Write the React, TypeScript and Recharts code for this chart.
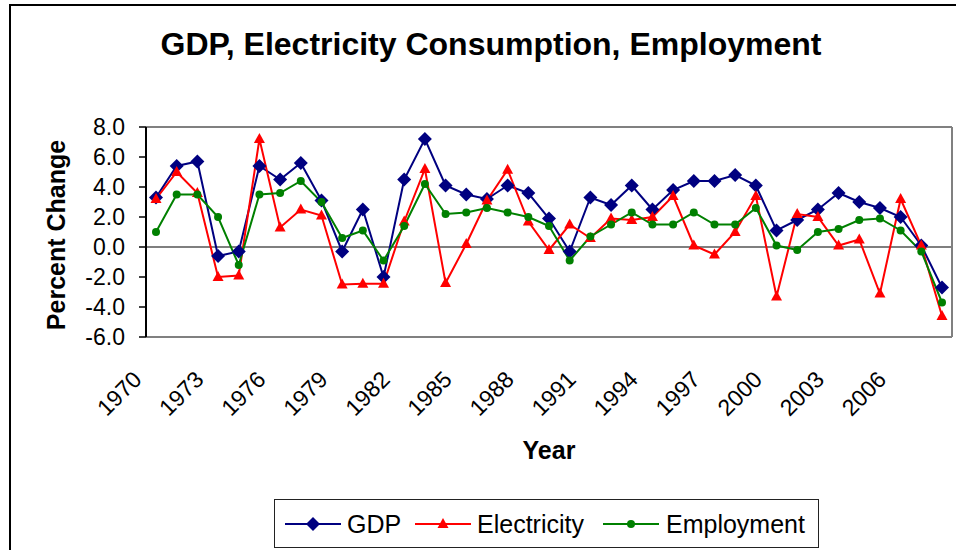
import { LineChart, Line, XAxis, YAxis, ReferenceLine, Label } from "recharts";

document.body.style.margin = "0";

const years = [
  "1970", "1971", "1972", "1973", "1974", "1975", "1976", "1977", "1978", "1979",
  "1980", "1981", "1982", "1983", "1984", "1985", "1986", "1987", "1988", "1989",
  "1990", "1991", "1992", "1993", "1994", "1995", "1996", "1997", "1998", "1999",
  "2000", "2001", "2002", "2003", "2004", "2005", "2006", "2007", "2008",
];

const gdp = [
  3.3, 5.4, 5.7, -0.6, -0.3, 5.4, 4.5, 5.6, 3.1, -0.3,
  2.5, -2.0, 4.5, 7.2, 4.1, 3.5, 3.2, 4.1, 3.6, 1.9,
  -0.3, 3.3, 2.8, 4.1, 2.5, 3.8, 4.4, 4.4, 4.8, 4.1,
  1.1, 1.8, 2.5, 3.6, 3.0, 2.6, 2.0, 0.1, -2.7,
];

const electricity = [
  3.2, 5.0, 3.6, -2.0, -1.9, 7.2, 1.3, 2.5, 2.1, -2.5,
  -2.45, -2.45, 1.7, 5.2, -2.4, 0.2, 3.1, 5.15, 1.7, -0.2,
  1.5, 0.6, 1.9, 1.8, 2.0, 3.4, 0.1, -0.5, 1.0, 3.4,
  -3.3, 2.2, 2.0, 0.1, 0.5, -3.1, 3.2, 0.1, -4.6,
];

const employment = [
  1.0, 3.5, 3.5, 2.0, -1.2, 3.5, 3.6, 4.4, 3.0, 0.6,
  1.1, -0.9, 1.4, 4.2, 2.2, 2.3, 2.6, 2.3, 2.0, 1.4,
  -0.9, 0.7, 1.5, 2.3, 1.5, 1.5, 2.3, 1.5, 1.5, 2.6,
  0.1, -0.2, 1.0, 1.2, 1.8, 1.9, 1.1, -0.3, -3.7,
];

const yTicks = [-6, -4, -2, 0, 2, 4, 6, 8];

const data = years.map((year, i) => ({
  year,
  gdp: gdp[i],
  electricity: electricity[i],
  employment: employment[i],
}));

const FONT = "Arial, 'Liberation Sans', Helvetica, sans-serif";
const NAVY = "#000080";
const RED = "#ff0000";
const GREEN = "#008000";

function Diamond(props: Record<string, unknown>) {
  const { cx, cy } = props as { cx: number; cy: number };
  if (cx == null || cy == null) return null;
  const r = 7;
  return <polygon points={`${cx},${cy - r} ${cx + r},${cy} ${cx},${cy + r} ${cx - r},${cy}`} fill={NAVY} />;
}

function Triangle(props: Record<string, unknown>) {
  const { cx, cy } = props as { cx: number; cy: number };
  if (cx == null || cy == null) return null;
  return <polygon points={`${cx},${cy - 6} ${cx - 5.5},${cy + 4} ${cx + 5.5},${cy + 4}`} fill={RED} />;
}

function Dot(props: Record<string, unknown>) {
  const { cx, cy } = props as { cx: number; cy: number };
  if (cx == null || cy == null) return null;
  return <circle cx={cx} cy={cy} r={4} fill={GREEN} />;
}

function YearTick(props: Record<string, unknown>) {
  const { x, y, payload } = props as { x: number; y: number; payload: { value: string } };
  const px = x - 13;
  const py = y + 44;
  return (
    <text x={px} y={py} transform={`rotate(-45, ${px}, ${py})`} textAnchor="end" fontSize={23} fontFamily={FONT} fill="#000">
      {payload.value}
    </text>
  );
}

function LegendSample({ color, marker }: { color: string; marker: "diamond" | "triangle" | "dot" }) {
  return (
    <svg width={56} height={20} style={{ display: "block" }}>
      <line x1={0} y1={10} x2={56} y2={10} stroke={color} strokeWidth={2} />
      {marker === "diamond" && <Diamond cx={28} cy={10} />}
      {marker === "triangle" && <Triangle cx={28} cy={10} />}
      {marker === "dot" && <Dot cx={28} cy={10} />}
    </svg>
  );
}

export default function App() {
  const legendText = { position: "absolute" as const, top: 9, fontSize: 25, fontFamily: FONT, lineHeight: "30px" };
  const legendLine = { position: "absolute" as const, top: 14 };
  return (
    <div style={{ position: "relative", width: 956, height: 550, overflow: "hidden", background: "#fff" }}>
      <div style={{ position: "absolute", left: 9, top: 4, width: 980, height: 600, border: "2px solid #000" }} />
      <div
        style={{
          position: "absolute",
          left: 491,
          top: 28,
          transform: "translateX(-50%)",
          whiteSpace: "nowrap",
          fontFamily: FONT,
          fontWeight: "bold",
          fontSize: 32,
          lineHeight: "32px",
        }}
      >
        GDP, Electricity Consumption, Employment
      </div>
      <div style={{ position: "absolute", left: 0, top: 0 }}>
        <LineChart width={956} height={550} data={data} margin={{ top: 127, right: 0, bottom: 113, left: 86 }}>
          <XAxis
            dataKey="year"
            interval={2}
            tickSize={0}
            tickMargin={0}
            tickLine={false}
            tick={<YearTick />}
            axisLine={{ stroke: "#808080", strokeWidth: 2 }}
            padding={{ left: 10, right: 10 }}
            height={100}
          >
            <Label
              content={() => (
                <text x={549} y={459} textAnchor="middle" fontSize={25} fontWeight="bold" fontFamily={FONT} fill="#000">
                  Year
                </text>
              )}
            />
          </XAxis>
          <YAxis
            domain={[-6, 8]}
            ticks={yTicks}
            interval={0}
            width={60}
            tickSize={7}
            tickMargin={14}
            tickFormatter={(v: number) => v.toFixed(1)}
            tick={{ fill: "#000", fontSize: 23, fontFamily: FONT }}
            tickLine={{ stroke: "#000", strokeWidth: 1.5 }}
            axisLine={{ stroke: "#000", strokeWidth: 2 }}
            allowDataOverflow
          >
            <Label
              content={() => (
                <text
                  x={65}
                  y={235}
                  transform="rotate(-90, 65, 235)"
                  textAnchor="middle"
                  fontSize={25}
                  fontWeight="bold"
                  fontFamily={FONT}
                  fill="#000"
                >
                  Percent Change
                </text>
              )}
            />
          </YAxis>
          <YAxis yAxisId="frame" orientation="right" width={4} tick={false} tickLine={false} axisLine={{ stroke: "#808080", strokeWidth: 2 }} />
          <ReferenceLine y={8} stroke="#808080" strokeWidth={2} />
          <ReferenceLine y={0} stroke="#000" strokeWidth={1.2} />
          <Line type="linear" dataKey="gdp" stroke={NAVY} strokeWidth={2} dot={<Diamond />} activeDot={false} isAnimationActive={false} />
          <Line type="linear" dataKey="electricity" stroke={RED} strokeWidth={2} dot={<Triangle />} activeDot={false} isAnimationActive={false} />
          <Line type="linear" dataKey="employment" stroke={GREEN} strokeWidth={2} dot={<Dot />} activeDot={false} isAnimationActive={false} />
        </LineChart>
      </div>
      <div
        style={{
          position: "absolute",
          left: 274,
          top: 499,
          width: 543,
          height: 47,
          border: "1.5px solid #222",
          background: "#fff",
        }}
      >
        <div style={{ ...legendLine, left: 10 }}>
          <LegendSample color={NAVY} marker="diamond" />
        </div>
        <div style={{ ...legendText, left: 72 }}>GDP</div>
        <div style={{ ...legendLine, left: 140 }}>
          <LegendSample color={RED} marker="triangle" />
        </div>
        <div style={{ ...legendText, left: 202 }}>Electricity</div>
        <div style={{ ...legendLine, left: 328 }}>
          <LegendSample color={GREEN} marker="dot" />
        </div>
        <div style={{ ...legendText, left: 391 }}>Employment</div>
      </div>
    </div>
  );
}
